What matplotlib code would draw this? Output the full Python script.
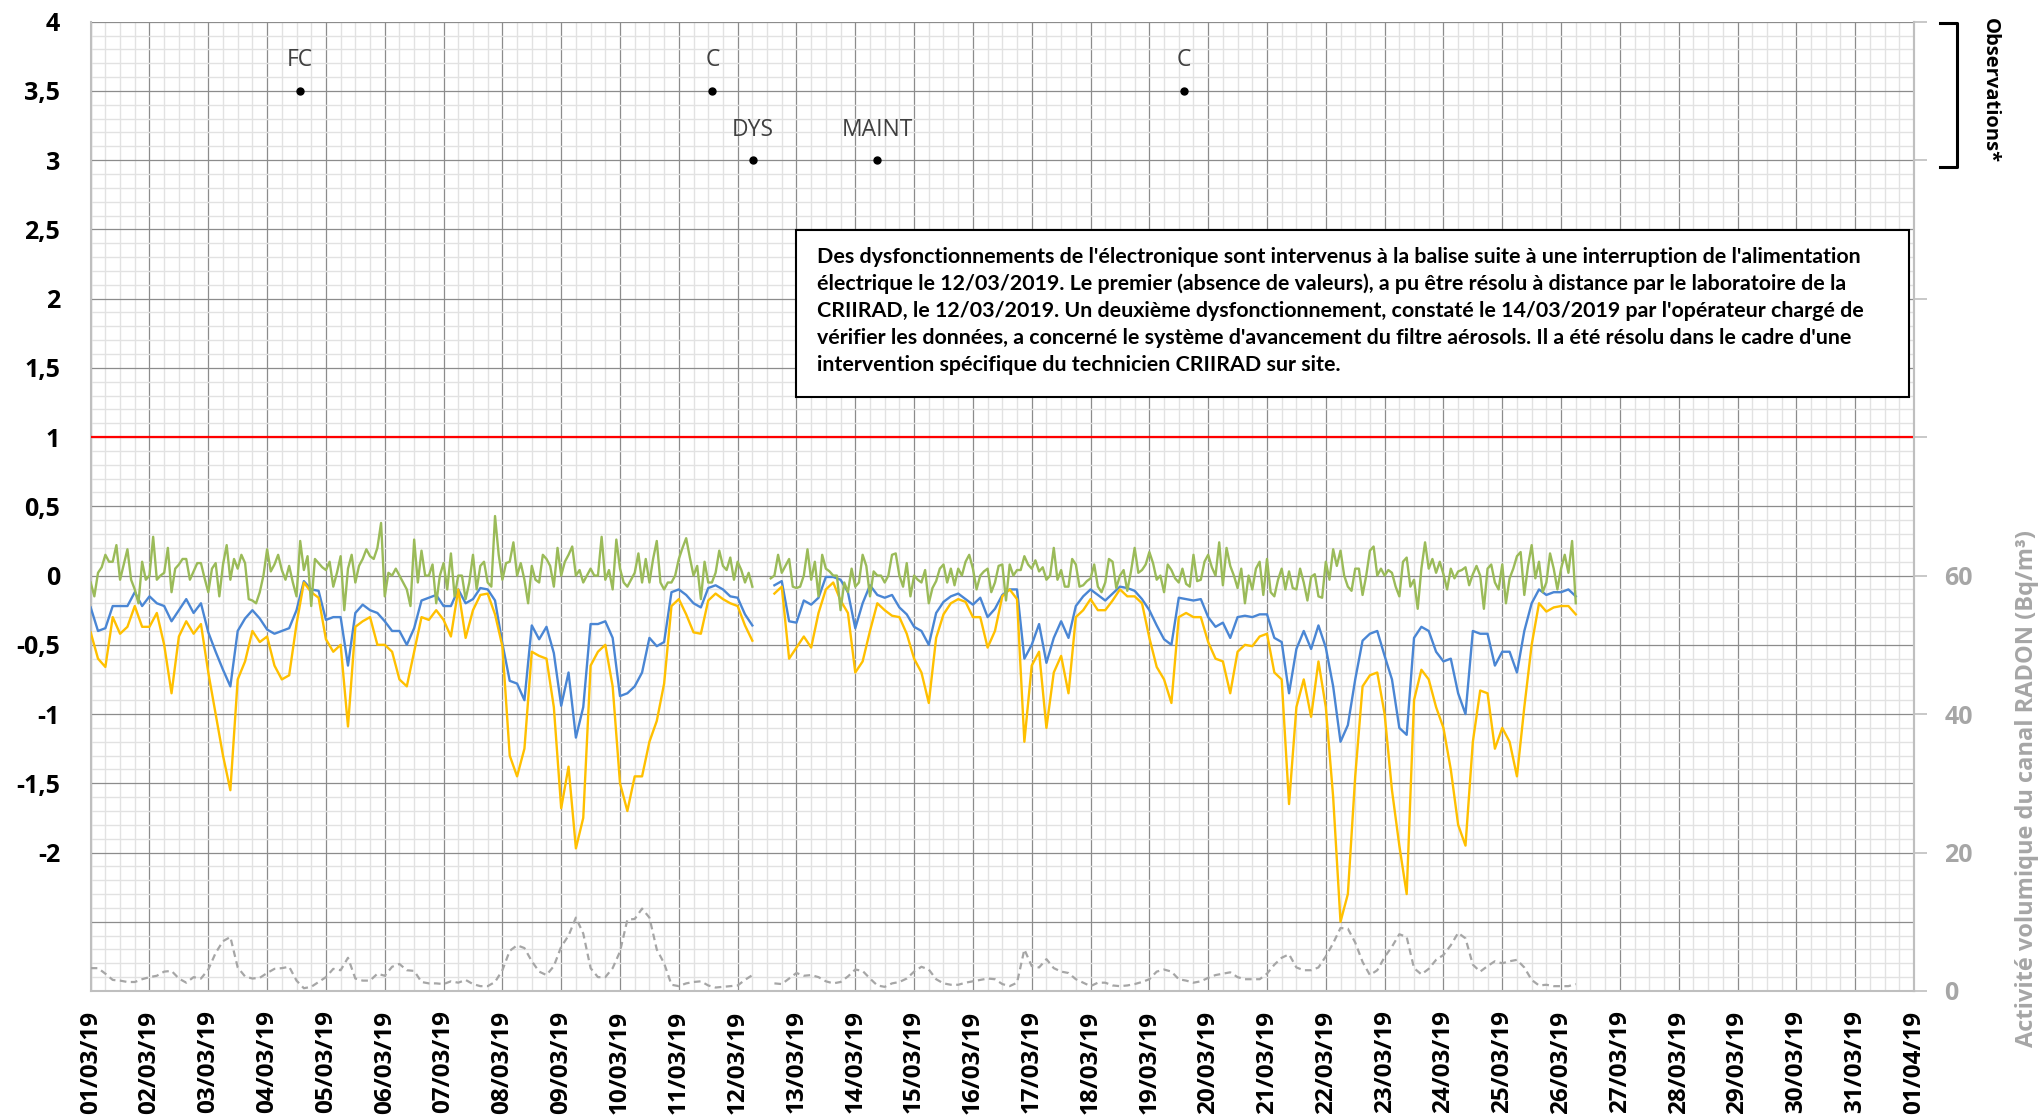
import numpy as np
import pandas as pd
import matplotlib.pyplot as plt
import matplotlib.dates as mdates
from matplotlib.lines import Line2D
from matplotlib.patches import Rectangle
from matplotlib.ticker import MultipleLocator, FuncFormatter

plt.rcParams["font.family"] = ["Open Sans", "DejaVu Sans"]

nan = np.nan

# one row per day, one value every 3 hours starting 01/03/2019 00:00
blue = [
    -0.23, -0.40, -0.38, -0.22, -0.22, -0.22, -0.12, -0.22,
    -0.15, -0.20, -0.22, -0.33, -0.25, -0.17, -0.27, -0.20,
    -0.41, -0.55, -0.68, -0.80, -0.40, -0.31, -0.25, -0.31,
    -0.39, -0.42, -0.40, -0.38, -0.25, -0.04, -0.10, -0.11,
    -0.32, -0.30, -0.30, -0.65, -0.27, -0.21, -0.25, -0.27,
    -0.33, -0.40, -0.40, -0.50, -0.38, -0.18, -0.16, -0.14,
    -0.22, -0.22, -0.10, -0.20, -0.17, -0.09, -0.10, -0.18,
    -0.49, -0.76, -0.78, -0.90, -0.36, -0.46, -0.37, -0.56,
    -0.94, -0.70, -1.17, -0.95, -0.35, -0.35, -0.33, -0.45,
    -0.87, -0.85, -0.80, -0.70, -0.45, -0.51, -0.48, -0.12,
    -0.10, -0.14, -0.20, -0.23, -0.09, -0.07, -0.10, -0.15,
    -0.16, -0.28, -0.36, nan, nan, -0.07, -0.04, -0.33,
    -0.34, -0.18, -0.21, -0.16, -0.01, -0.01, -0.03, -0.12,
    -0.38, -0.20, -0.07, -0.14, -0.16, -0.14, -0.23, -0.28,
    -0.37, -0.40, -0.50, -0.27, -0.19, -0.15, -0.13, -0.17,
    -0.21, -0.16, -0.30, -0.24, -0.14, -0.10, -0.10, -0.60,
    -0.50, -0.35, -0.63, -0.45, -0.33, -0.45, -0.22, -0.15,
    -0.10, -0.14, -0.18, -0.13, -0.08, -0.09, -0.11, -0.17,
    -0.25, -0.36, -0.46, -0.50, -0.16, -0.17, -0.18, -0.17,
    -0.30, -0.37, -0.34, -0.45, -0.30, -0.29, -0.30, -0.28,
    -0.28, -0.45, -0.48, -0.85, -0.53, -0.40, -0.53, -0.36,
    -0.52, -0.80, -1.20, -1.08, -0.75, -0.47, -0.42, -0.40,
    -0.58, -0.75, -1.10, -1.15, -0.45, -0.37, -0.40, -0.55,
    -0.62, -0.60, -0.85, -1.00, -0.40, -0.42, -0.42, -0.65,
    -0.55, -0.55, -0.70, -0.40, -0.20, -0.10, -0.14, -0.12,
    -0.12, -0.10, -0.15,
]

orange = [
    -0.41, -0.60, -0.66, -0.30, -0.42, -0.37, -0.22, -0.37,
    -0.37, -0.27, -0.50, -0.85, -0.44, -0.33, -0.42, -0.35,
    -0.70, -1.00, -1.30, -1.55, -0.75, -0.62, -0.40, -0.48,
    -0.44, -0.65, -0.75, -0.72, -0.35, -0.05, -0.12, -0.16,
    -0.46, -0.55, -0.50, -1.09, -0.37, -0.33, -0.30, -0.50,
    -0.50, -0.55, -0.75, -0.80, -0.55, -0.30, -0.32, -0.25,
    -0.32, -0.44, -0.10, -0.45, -0.25, -0.14, -0.13, -0.28,
    -0.51, -1.30, -1.45, -1.25, -0.55, -0.58, -0.60, -0.95,
    -1.68, -1.38, -1.97, -1.75, -0.65, -0.55, -0.50, -0.80,
    -1.50, -1.70, -1.45, -1.45, -1.20, -1.05, -0.78, -0.22,
    -0.17, -0.28, -0.41, -0.42, -0.18, -0.13, -0.17, -0.20,
    -0.22, -0.36, -0.47, nan, nan, -0.13, -0.08, -0.60,
    -0.52, -0.44, -0.52, -0.27, -0.10, -0.05, -0.18, -0.27,
    -0.70, -0.62, -0.40, -0.20, -0.25, -0.29, -0.30, -0.42,
    -0.60, -0.70, -0.92, -0.45, -0.28, -0.20, -0.17, -0.19,
    -0.30, -0.30, -0.52, -0.40, -0.15, -0.10, -0.17, -1.20,
    -0.65, -0.55, -1.10, -0.70, -0.58, -0.85, -0.30, -0.25,
    -0.17, -0.25, -0.25, -0.18, -0.10, -0.15, -0.15, -0.20,
    -0.45, -0.66, -0.75, -0.92, -0.30, -0.27, -0.30, -0.30,
    -0.48, -0.60, -0.62, -0.85, -0.55, -0.50, -0.51, -0.44,
    -0.42, -0.70, -0.75, -1.65, -0.95, -0.75, -1.02, -0.62,
    -0.95, -1.60, -2.50, -2.30, -1.45, -0.80, -0.72, -0.70,
    -1.00, -1.55, -1.95, -2.30, -0.90, -0.68, -0.75, -0.95,
    -1.10, -1.40, -1.80, -1.95, -1.20, -0.83, -0.85, -1.25,
    -1.10, -1.20, -1.45, -0.95, -0.50, -0.20, -0.26, -0.23,
    -0.22, -0.22, -0.28,
]

# green series is read every 1.5 hours (16 values per day)
green = [
    -0.05, -0.15, 0.02, 0.06, 0.15, 0.10, 0.10, 0.22, -0.03, 0.08, 0.19, -0.03, -0.10, -0.20, 0.10, -0.03,
    0.00, 0.28, -0.03, 0.00, 0.02, 0.20, -0.12, 0.05, 0.08, 0.12, 0.12, -0.03, 0.03, 0.09, 0.09, -0.02,
    -0.12, 0.05, 0.09, -0.15, 0.08, 0.22, -0.03, 0.12, 0.05, 0.15, 0.09, -0.17, -0.18, -0.20, -0.12, 0.00,
    0.19, 0.03, 0.08, 0.15, 0.04, -0.03, 0.07, -0.05, -0.15, 0.25, 0.04, 0.14, -0.22, 0.12, 0.09, 0.06,
    0.04, 0.10, -0.08, 0.02, 0.14, -0.25, 0.05, 0.15, -0.05, 0.07, 0.12, 0.19, 0.14, 0.12, 0.20, 0.38,
    -0.15, 0.02, 0.00, 0.05, 0.00, -0.05, -0.10, -0.22, 0.26, -0.05, 0.18, 0.00, 0.00, 0.08, -0.20, 0.00,
    0.09, -0.10, 0.16, -0.15, 0.00, 0.00, -0.17, -0.05, 0.15, -0.10, 0.07, 0.10, -0.05, -0.08, 0.43, 0.15,
    -0.03, 0.09, 0.10, 0.24, 0.00, 0.09, -0.03, -0.20, 0.07, -0.03, -0.05, 0.15, 0.12, 0.07, -0.08, 0.20,
    0.00, 0.10, 0.15, 0.21, 0.00, 0.04, -0.05, 0.00, 0.05, 0.00, 0.00, 0.28, -0.03, 0.04, -0.10, 0.26,
    0.05, -0.05, -0.08, -0.03, 0.02, 0.16, -0.05, 0.12, -0.05, 0.12, 0.25, -0.05, -0.10, -0.05, -0.05, 0.00,
    0.12, 0.20, 0.27, 0.13, 0.00, 0.07, -0.17, 0.10, -0.05, -0.05, 0.02, 0.18, 0.07, 0.04, 0.13, -0.03,
    0.10, 0.04, -0.05, 0.02, -0.08, nan, nan, nan, nan, -0.02, 0.00, 0.15, 0.02, 0.07, 0.12, -0.08,
    -0.09, -0.08, 0.00, 0.19, -0.03, 0.10, -0.15, 0.15, 0.05, 0.03, 0.00, 0.00, -0.25, -0.05, -0.12, 0.05,
    -0.08, -0.05, 0.15, 0.07, -0.15, 0.03, 0.00, 0.00, -0.05, 0.00, 0.15, 0.16, 0.00, -0.08, 0.09, -0.15,
    0.00, -0.03, -0.05, 0.04, -0.20, -0.09, -0.04, 0.05, 0.08, -0.05, 0.05, -0.07, 0.05, 0.00, 0.10, 0.15,
    0.05, -0.10, 0.00, 0.03, 0.05, -0.12, -0.05, 0.07, 0.08, -0.18, 0.08, 0.00, 0.04, 0.04, 0.14, 0.08,
    0.05, 0.11, 0.03, 0.06, -0.03, 0.00, 0.20, -0.03, 0.04, -0.08, -0.08, 0.12, 0.08, -0.08, -0.07, -0.04,
    -0.02, 0.08, -0.08, -0.12, -0.05, 0.12, 0.10, -0.09, 0.00, 0.04, -0.11, 0.03, 0.20, 0.02, 0.04, 0.08,
    0.17, 0.09, -0.03, 0.00, -0.12, 0.08, 0.04, -0.02, -0.05, 0.05, -0.06, -0.08, 0.15, -0.04, -0.03, 0.10,
    0.15, 0.06, 0.00, 0.24, -0.07, 0.20, 0.07, 0.00, -0.09, 0.05, -0.20, 0.00, -0.10, 0.05, 0.10, -0.14,
    0.12, -0.12, -0.15, -0.03, 0.05, -0.10, 0.03, -0.09, -0.10, 0.05, -0.05, -0.18, -0.01, 0.01, -0.15, -0.16,
    0.10, -0.03, 0.19, 0.07, 0.18, 0.00, -0.08, -0.11, 0.05, 0.05, -0.14, 0.00, 0.18, 0.21, 0.00, 0.05,
    0.00, 0.04, 0.02, -0.08, -0.15, 0.10, 0.13, -0.08, -0.03, -0.24, 0.05, 0.24, 0.05, 0.12, 0.02, 0.10,
    0.01, -0.10, 0.05, -0.02, 0.03, 0.04, 0.06, -0.07, 0.01, 0.07, 0.00, -0.24, 0.05, 0.08, -0.05, -0.10,
    0.08, -0.20, -0.02, 0.05, 0.14, 0.17, -0.14, 0.07, 0.22, -0.02, 0.10, -0.12, -0.05, 0.16, 0.05, -0.10,
    0.05, 0.15, 0.02, 0.25, -0.20,
]

# radon activity, Bq/m3 (right axis), every 3 hours
radon = [
    3.3, 3.3, 2.5, 1.6, 1.5, 1.3, 1.3, 1.7,
    2.0, 2.2, 2.8, 2.9, 1.8, 1.2, 2.0, 1.8,
    3.1, 5.5, 7.2, 7.8, 3.4, 2.1, 1.8, 1.9,
    2.6, 3.2, 3.3, 3.5, 1.5, 0.4, 0.6, 1.3,
    2.0, 3.2, 3.0, 4.8, 1.8, 1.5, 1.5, 2.5,
    2.2, 3.5, 3.9, 3.0, 2.9, 1.3, 1.1, 1.1,
    1.0, 1.4, 1.2, 1.6, 1.0, 0.7, 0.7, 1.3,
    3.0, 5.8, 6.6, 6.2, 4.3, 2.8, 2.3, 3.6,
    6.4, 8.0, 10.6, 8.3, 3.3, 2.0, 2.0, 3.3,
    5.7, 10.3, 10.4, 11.9, 10.6, 6.0, 4.0, 0.9,
    0.7, 1.1, 1.3, 1.4, 0.8, 0.5, 0.6, 0.7,
    0.8, 1.6, 2.3, nan, nan, 1.1, 1.0, 1.8,
    2.6, 2.2, 2.3, 2.0, 1.4, 1.1, 1.3, 2.1,
    3.1, 2.9, 1.8, 0.8, 0.6, 1.1, 1.3, 1.8,
    2.8, 3.5, 3.1, 1.7, 1.1, 0.9, 0.9, 1.2,
    1.4, 1.6, 1.8, 1.7, 1.0, 0.7, 1.2, 6.0,
    3.6, 3.4, 4.6, 3.3, 2.8, 2.6, 1.7, 1.2,
    0.7, 1.2, 1.2, 0.8, 0.7, 0.8, 1.0, 1.3,
    1.7, 2.8, 3.1, 2.8, 1.7, 1.5, 1.2, 1.4,
    1.9, 2.3, 2.5, 2.7, 2.0, 1.7, 1.7, 1.7,
    2.5, 3.8, 4.8, 5.3, 3.4, 3.0, 3.0, 3.4,
    5.0, 6.9, 9.1, 9.0, 7.0, 4.2, 2.3, 3.0,
    4.9, 6.4, 8.2, 7.8, 3.3, 2.4, 3.2, 4.5,
    5.2, 6.6, 8.4, 7.6, 3.8, 2.8, 3.6, 4.3,
    4.0, 4.3, 4.5, 3.4, 1.6, 0.8, 0.9, 0.7,
    0.7, 0.7, 1.0,
]

times = pd.date_range("2019-03-01", periods=len(blue), freq="3h")
green_times = pd.date_range("2019-03-01", periods=len(green), freq="90min")

obs_labels = ["FC", "C", "DYS", "MAINT", "C"]
obs_times = pd.to_datetime(["2019-03-04 13:30", "2019-03-11 13:40",
                            "2019-03-12 06:15", "2019-03-14 09:00",
                            "2019-03-19 14:10"])
obs_levels = [3.5, 3.5, 3.0, 3.0, 3.5]

note_lines = [
    "Des dysfonctionnements de l'électronique sont intervenus à la balise suite à une interruption de l'alimentation",
    "électrique le 12/03/2019. Le premier (absence de valeurs), a pu être résolu à distance par le laboratoire de la",
    "CRIIRAD, le 12/03/2019. Un deuxième dysfonctionnement, constaté le 14/03/2019 par l'opérateur chargé de",
    "vérifier les données, a concerné le système d'avancement du filtre aérosols. Il a été résolu dans le cadre d'une",
    "intervention spécifique du technicien CRIIRAD sur site.",
]

fig = plt.figure(figsize=(20.42, 11.18), dpi=100)
ax = fig.add_axes([0.0444, 0.1136, 0.8929, 0.867])

ax.plot(times, blue, color="#4A86D4", lw=1.7, zorder=3)
ax.plot(times, orange, color="#FFC000", lw=1.7, zorder=4)
ax.plot(green_times, green, color="#9BBB59", lw=1.7, zorder=5)
ax.axhline(1, color="#FF0000", lw=1.6, zorder=4)

ax.plot(obs_times, obs_levels, "o", color="black", ms=5, zorder=6)
for lab, t, y in zip(obs_labels, obs_times, obs_levels):
    ax.annotate(lab, (t, y), xytext=(0, 22), textcoords="offset points",
                ha="center", va="center", fontsize=16.5, color="#404040")

ax.set_xlim(pd.Timestamp("2019-03-01"), pd.Timestamp("2019-04-01"))
ax.set_ylim(-3, 4)
ax.xaxis.set_major_locator(mdates.DayLocator())
ax.xaxis.set_major_formatter(mdates.DateFormatter("%d/%m/%y"))
ax.xaxis.set_minor_locator(mdates.HourLocator(byhour=[6, 12, 18]))
ax.yaxis.set_major_locator(MultipleLocator(0.5))
ax.yaxis.set_minor_locator(MultipleLocator(0.1))
ax.yaxis.set_major_formatter(FuncFormatter(
    lambda v, p: "" if v < -2.01 else ("%g" % v).replace(".", ",")))

ax.set_axisbelow(True)
ax.grid(which="minor", color="#E2E2E2", lw=1.0)
ax.grid(which="major", color="#8C8C8C", lw=0.9)
ax.tick_params(which="both", length=0)
ax.tick_params(axis="x", labelrotation=90, pad=14, labelsize=17.5)
ax.tick_params(axis="y", pad=22, labelsize=18)
for lab in ax.get_xticklabels() + ax.get_yticklabels():
    lab.set_fontweight("bold")
ax.spines["top"].set_visible(False)
for s in ["left", "bottom", "right"]:
    ax.spines[s].set_color("#BFBFBF")
    ax.spines[s].set_linewidth(1.5)

ax2 = ax.twinx()
ax2.plot(times, radon, color="#A6A6A6", lw=1.6, ls=(0, (3, 2)))
ax2.set_ylim(0, 140)
ax2.set_yticks(np.arange(0, 141, 20))
ax2.yaxis.set_major_formatter(FuncFormatter(lambda v, p: "%d" % v if v <= 60 else ""))
ax2.tick_params(axis="y", length=9, width=1.2, color="#BFBFBF", pad=13,
                labelsize=18, labelcolor="#A6A6A6")
for lab in ax2.get_yticklabels():
    lab.set_fontweight("bold")
for s in ["top", "left", "bottom"]:
    ax2.spines[s].set_visible(False)
ax2.spines["right"].set_color("#BFBFBF")
ax2.spines["right"].set_linewidth(1.5)

# note box, lines placed 27 px apart inside the frame
ax.add_patch(Rectangle((0.3868, 0.6128), 0.6105, 0.1723, transform=ax.transAxes,
                       facecolor="white", edgecolor="black", lw=1.5, zorder=7))
note_texts = []
for i, line in enumerate(note_lines):
    y = (991 - (256.7 + 27.2 * i)) / 969.3
    note_texts.append(ax.text(0.3983, y, line, transform=ax.transAxes, ha="left",
                              va="center", family=["Lato", "DejaVu Sans"],
                              fontweight="bold", fontsize=13, zorder=8))
fig.canvas.draw()
widest = max(t.get_window_extent().width for t in note_texts)
for t in note_texts:
    t.set_fontsize(13 * 1046 / widest)

# observations bracket
fig.add_artist(Line2D([0.9500, 0.9584, 0.9584, 0.9500], [0.9797, 0.9797, 0.8509, 0.8509],
                      color="black", lw=2.2))
fig.text(0.9745, 0.984, "Observations*", rotation=270, va="top", ha="center",
         fontweight="bold", fontsize=14.5)
fig.text(0.9927, 0.526, "Activité volumique du canal RADON (Bq/m³)", rotation=90,
         va="top", ha="center", fontweight="bold", fontsize=17, color="#A6A6A6")

fig.savefig("out.png", dpi=100)
